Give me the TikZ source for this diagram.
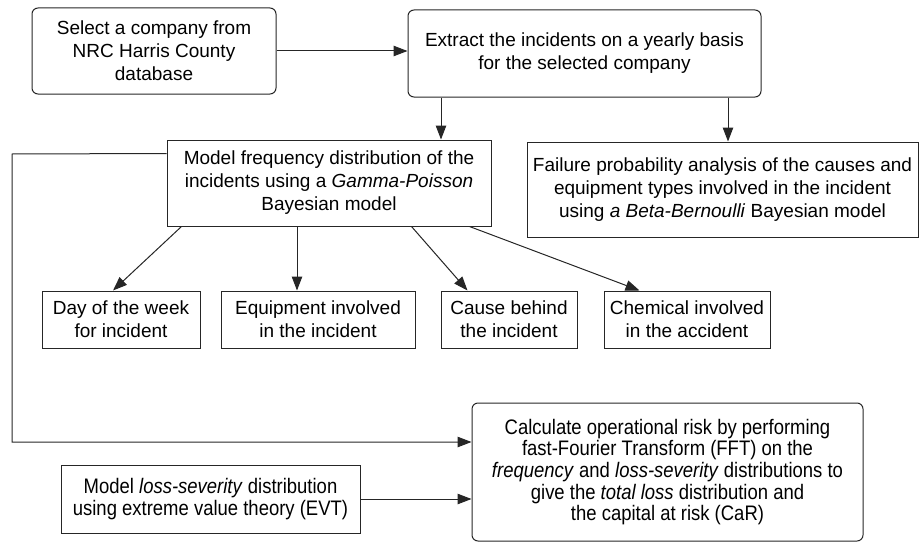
\documentclass[tikz,border=0pt]{standalone}
\usepackage{fontspec}
\setmainfont{Liberation Sans}
\newfontfamily\narrowsans[FakeStretch=0.88]{Liberation Sans}
\usetikzlibrary{arrows.meta}

\begin{document}
\begin{tikzpicture}[x=1pt,y=-1pt,
        plainbox/.style={draw=black!85, line width=1pt, align=center, inner sep=0pt,
            font=\fontsize{19}{23}\selectfont},
        roundbox/.style={plainbox, rounded corners=6pt},
        narrowbox/.style={font=\narrowsans\fontsize{21}{21.7}\selectfont},
        arr/.style={draw=black!85, line width=1pt, -{Triangle[length=14pt,width=10.5pt]}}]
        \useasboundingbox (0,0) rectangle (920,543);

        % Nodes
        \node[roundbox, minimum width=244pt, minimum height=86pt] (select) at (154,51)
            {Select a company from\\NRC Harris County\\database};
        \node[roundbox, minimum width=353pt, minimum height=87pt] (extract) at (584.5,53.5)
            {Extract the incidents on a yearly basis\\for the selected company};
        \node[plainbox, minimum width=324pt, minimum height=86pt] (freq) at (329,183)
            {Model frequency distribution of the\\incidents using a \textit{Gamma-Poisson}\\Bayesian model};
        \node[plainbox, minimum width=391pt, minimum height=95pt] (failure) at (722.5,189.5)
            {Failure probability analysis of the causes and\\equipment types involved in the incident\\using \textit{a Beta-Bernoulli} Bayesian model};

        \node[plainbox, minimum width=158pt, minimum height=57pt] (day) at (121,319.5)
            {Day of the week\\for incident};
        \node[plainbox, minimum width=194pt, minimum height=57pt] (equip) at (318,319.5)
            {Equipment involved\\in the incident};
        \node[plainbox, minimum width=136pt, minimum height=57pt] (cause) at (509,319.5)
            {Cause behind\\the incident};
        \node[plainbox, minimum width=166pt, minimum height=57pt] (chem) at (687,319.5)
            {Chemical involved\\in the accident};

        \node[roundbox, narrowbox, minimum width=391pt, minimum height=138pt] (fft) at (667.5,472)
            {Calculate operational risk by performing\\fast-Fourier Transform (FFT) on the\\\textit{frequency} and \textit{loss-severity} distributions to\\give the \textit{total loss} distribution and\\the capital at risk (CaR)};
        \node[plainbox, narrowbox, minimum width=299pt, minimum height=68pt] (evt) at (210.5,499)
            {Model \textit{loss-severity} distribution\\using extreme value theory (EVT)};

        \coordinate (c1) at (441,0);
        \coordinate (c2) at (728,0);
        \coordinate (c3) at (297,0);
        \coordinate (fb) at (12,154);

        % Edges
        \draw[arr] (select.east) -- (select.east -| extract.west);
        \draw[arr] (c1 |- extract.south) -- (c1 |- freq.north);
        \draw[arr] (c2 |- extract.south) -- (c2 |- failure.north);

        \draw[arr] ([xshift=15pt]freq.south west) -- ([xshift=-8pt]day.north);
        \draw[arr] (c3 |- freq.south) -- (c3 |- equip.north);
        \draw[arr] ([xshift=245pt]freq.south west) -- ([xshift=27pt]cause.north west);
        \draw[arr] ([xshift=303pt]freq.south west) -- ([xshift=36pt]chem.north west);

        \draw[arr] ([yshift=-14pt]freq.north west) -- (fb) |- ([yshift=30pt]fft.west);
        \draw[arr] (evt.east) -- (evt.east -| fft.west);
    \end{tikzpicture}
\end{document}
